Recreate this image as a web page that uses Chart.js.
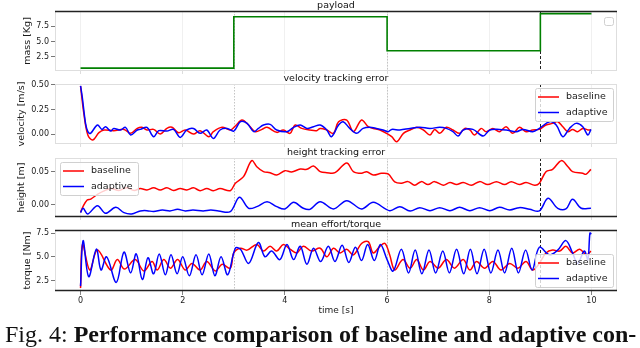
<!DOCTYPE html>
<html>
<head>
<meta charset="utf-8">
<script src="https://cdn.jsdelivr.net/npm/chart.js@4.4.0/dist/chart.umd.min.js"></script>
<style>
  body { margin: 0; width: 640px; height: 348px; overflow: hidden; background: #fff; position: relative; }
  canvas { position: absolute; left: 0; top: 0; }
  #caption { position: absolute; left: 5px; top: 322px; font-family: "Liberation Serif", serif; font-size: 24px; line-height: 24px; white-space: nowrap; color: #111; }
</style>
</head>
<body>
<canvas id="c1" width="640" height="348"></canvas>
<canvas id="c2" width="640" height="348"></canvas>
<canvas id="c3" width="640" height="348"></canvas>
<canvas id="c4" width="640" height="348"></canvas>
<div id="caption">Fig. 4: <b>Performance comparison of baseline and adaptive con-</b></div>
<script>
// data, [time s, value]
const massTimes = [0, 3, 6, 9, 10];
const massValues = [0.7, 9.0, 3.5, 9.5, 9.5];
const eventTimes = [3, 6, 9];   // payload changes, last one marked

const velBaseline = [[0,0.49],[0.065,0.21],[0.143,-0.007],[0.24,-0.058],[0.36,0.017],[0.46,0.044],[0.65,0.037],[0.85,0.05],[0.98,0.01],[1.11,0.06],[1.2,0.071],[1.3,0.044],[1.43,0.05],[1.56,0.003],[1.69,0.06],[1.79,0.071],[1.92,0.017],[2.05,0.044],[2.21,0.003],[2.34,0.037],[2.51,-0.024],[2.6,0.027],[2.77,0.071],[2.93,0.044],[3.03,0.084],[3.16,0.145],[3.29,0.094],[3.42,0.027],[3.55,0.05],[3.65,0.071],[3.84,0.02],[3.97,0.044],[4.1,0.01],[4.2,0.094],[4.33,0.06],[4.49,0.044],[4.62,0.037],[4.69,0.06],[4.82,0.044],[4.95,0.01],[5.05,0.128],[5.21,0.145],[5.34,0.027],[5.5,0.145],[5.63,0.077],[5.73,0.06],[5.86,0.044],[5.99,0.01],[6.09,-0.024],[6.19,-0.075],[6.32,0.01],[6.45,0.044],[6.58,0.071],[6.71,0.044],[6.84,-0.007],[6.93,0.05],[7.03,0.01],[7.16,0.071],[7.29,0.044],[7.42,0.01],[7.52,0.06],[7.62,0.044],[7.71,-0.007],[7.84,0.06],[7.94,0.027],[8.07,0.06],[8.2,0.027],[8.33,0.077],[8.46,0.01],[8.59,0.071],[8.72,0.027],[8.85,0.044],[8.98,0.05],[9.11,0.094],[9.24,0.111],[9.34,0.128],[9.44,0.077],[9.54,0.027],[9.63,0.05],[9.73,0.027],[9.83,0.06],[9.93,0.044],[9.99,0.044]];
const velAdaptive = [[0,0.49],[0.033,0.38],[0.098,0.111],[0.143,0.027],[0.195,0.01],[0.33,0.094],[0.42,0.05],[0.49,0.077],[0.59,0.033],[0.65,0.06],[0.78,0.044],[0.88,0.071],[0.98,-0.007],[1.11,0.044],[1.17,0.05],[1.3,0.071],[1.43,-0.024],[1.53,0.037],[1.69,0.033],[1.82,0.05],[1.95,-0.031],[2.08,0.044],[2.21,0.06],[2.34,0.01],[2.47,0.044],[2.6,-0.041],[2.73,0.044],[2.87,0.06],[3.0,0.033],[3.13,0.128],[3.26,0.111],[3.39,0.027],[3.48,0.06],[3.58,0.094],[3.71,0.101],[3.84,0.044],[4.04,0.027],[4.17,0.071],[4.3,0.094],[4.43,0.06],[4.56,0.077],[4.69,0.094],[4.82,0.044],[4.91,-0.024],[5.05,0.094],[5.14,0.128],[5.27,0.06],[5.4,0.01],[5.53,0.06],[5.66,0.071],[5.79,0.06],[5.92,0.044],[6.02,0.027],[6.09,0.05],[6.25,0.044],[6.45,0.06],[6.64,0.071],[6.84,0.06],[7.03,0.071],[7.16,0.06],[7.29,0.027],[7.39,-0.017],[7.49,0.044],[7.68,0.05],[7.88,-0.017],[8.01,0.044],[8.2,0.05],[8.33,0.044],[8.53,0.027],[8.66,0.05],[8.85,0.027],[8.98,0.06],[9.18,0.128],[9.31,0.094],[9.44,-0.024],[9.57,0.06],[9.7,0.111],[9.83,0.077],[9.93,-0.007],[9.99,0.05]];

const hgtBaseline = [[0,-0.011],[0.05,-0.002],[0.13,0.0076],[0.2,0.009],[0.33,0.016],[0.45,0.021],[0.6,0.025],[0.75,0.022],[0.9,0.026],[1.05,0.022],[1.17,0.025],[1.3,0.0227],[1.43,0.026],[1.56,0.0227],[1.69,0.026],[1.82,0.022],[1.95,0.025],[2.08,0.0227],[2.21,0.026],[2.34,0.0217],[2.47,0.025],[2.6,0.0217],[2.73,0.025],[2.93,0.0217],[3.03,0.033],[3.19,0.043],[3.35,0.0672],[3.45,0.058],[3.58,0.0505],[3.71,0.049],[3.84,0.0455],[4.0,0.052],[4.13,0.05],[4.3,0.0545],[4.43,0.054],[4.56,0.059],[4.69,0.0505],[4.82,0.049],[4.98,0.049],[5.21,0.0636],[5.34,0.0505],[5.5,0.048],[5.6,0.0505],[5.73,0.0455],[5.89,0.048],[6.02,0.047],[6.15,0.035],[6.28,0.033],[6.41,0.0354],[6.54,0.030],[6.67,0.0354],[6.8,0.031],[6.93,0.0354],[7.1,0.030],[7.23,0.034],[7.36,0.031],[7.49,0.034],[7.65,0.030],[7.81,0.0354],[7.97,0.031],[8.14,0.0354],[8.3,0.031],[8.43,0.0354],[8.59,0.031],[8.72,0.034],[8.89,0.030],[8.98,0.033],[9.11,0.0505],[9.24,0.054],[9.41,0.0672],[9.54,0.058],[9.63,0.0505],[9.83,0.048],[9.89,0.0465],[9.99,0.054]];
const hgtAdaptive = [[0,-0.0116],[0.05,-0.005],[0.14,-0.0136],[0.33,-0.001],[0.49,-0.0126],[0.69,-0.0035],[0.85,-0.0116],[1.0,-0.0136],[1.17,-0.009],[1.3,-0.0086],[1.43,-0.01],[1.6,-0.0076],[1.75,-0.009],[1.9,-0.0066],[2.05,-0.009],[2.2,-0.0076],[2.4,-0.009],[2.55,-0.0076],[2.7,-0.009],[2.93,-0.0101],[3.11,0.0116],[3.29,-0.005],[3.45,-0.0025],[3.65,0.005],[3.84,-0.0025],[4.0,-0.006],[4.17,0.004],[4.36,-0.005],[4.49,-0.0066],[4.69,0.005],[4.95,-0.006],[5.21,0.0066],[5.5,-0.006],[5.73,0.004],[6.05,-0.0086],[6.25,-0.0025],[6.45,-0.009],[6.64,-0.004],[6.84,-0.0086],[7.03,-0.004],[7.23,-0.0086],[7.42,-0.0035],[7.62,-0.0086],[7.81,-0.004],[8.01,-0.0086],[8.2,-0.0035],[8.4,-0.0076],[8.59,-0.004],[8.79,-0.0066],[8.98,-0.009],[9.15,0.0101],[9.34,-0.005],[9.5,-0.006],[9.63,0.0086],[9.8,-0.005],[9.99,-0.005]];

const torBaseline = [[0,1.7],[0.04,6.3],[0.18,3.6],[0.33,5.7],[0.59,3.6],[0.72,4.7],[0.86,3.7],[1.07,4.7],[1.24,3.5],[1.4,4.5],[1.5,3.6],[1.63,4.7],[1.76,3.8],[1.9,4.7],[2.05,3.6],[2.18,4.3],[2.34,3.6],[2.47,4.5],[2.64,3.5],[2.77,4.2],[2.93,3.8],[3.0,5.4],[3.13,5.9],[3.26,5.7],[3.45,6.3],[3.58,5.6],[3.71,6.1],[3.84,5.6],[3.97,6.3],[4.1,5.8],[4.23,5.4],[4.36,6.1],[4.52,5.6],[4.69,5.9],[4.82,5.0],[4.95,5.9],[5.08,5.4],[5.21,5.8],[5.34,5.2],[5.5,6.4],[5.63,6.6],[5.73,5.4],[5.86,6.1],[5.96,6.4],[6.05,5.2],[6.15,3.6],[6.31,4.7],[6.45,3.8],[6.58,4.7],[6.71,3.6],[6.84,4.5],[7.0,3.8],[7.16,4.7],[7.32,3.8],[7.49,4.7],[7.62,3.6],[7.75,4.5],[7.91,3.8],[8.07,4.5],[8.23,3.6],[8.4,4.3],[8.56,3.8],[8.72,4.5],[8.85,3.6],[8.98,4.3],[9.11,5.4],[9.24,5.7],[9.38,5.6],[9.5,6.1],[9.63,5.4],[9.77,5.8],[9.9,5.2],[9.99,5.6]];
const torAdaptive = [[0,1.9],[0.05,6.7],[0.16,2.9],[0.31,5.8],[0.4,3.6],[0.51,5.0],[0.7,2.3],[0.85,5.5],[0.98,3.3],[1.09,5.3],[1.21,2.6],[1.32,4.9],[1.43,3.2],[1.54,5.3],[1.66,3.1],[1.77,5.2],[1.89,3.2],[2.0,5.0],[2.13,3.0],[2.26,5.2],[2.38,3.1],[2.51,5.3],[2.63,3.0],[2.75,5.0],[2.88,3.1],[3.03,5.9],[3.13,5.8],[3.29,4.3],[3.48,6.5],[3.61,5.0],[3.74,5.6],[3.9,4.7],[4.04,6.3],[4.17,4.7],[4.3,6.1],[4.43,4.2],[4.56,5.9],[4.7,4.5],[4.85,6.1],[4.98,4.5],[5.12,6.2],[5.25,4.4],[5.38,6.0],[5.5,4.6],[5.62,6.3],[5.75,4.6],[5.87,6.3],[6.0,4.7],[6.12,3.5],[6.28,5.8],[6.42,3.3],[6.55,5.7],[6.68,3.2],[6.82,5.7],[6.95,3.3],[7.09,5.6],[7.22,3.3],[7.36,5.8],[7.5,3.2],[7.63,5.8],[7.76,3.2],[7.9,5.8],[8.03,3.3],[8.17,5.7],[8.3,3.3],[8.44,5.9],[8.57,3.3],[8.71,5.7],[8.84,3.6],[8.98,6.0],[9.18,5.2],[9.34,5.7],[9.5,6.7],[9.63,5.4],[9.73,4.3],[9.86,5.6],[9.93,4.7],[9.97,7.5],[10.0,7.4]];

const seriesNames = ['baseline', 'adaptive'];
const tickTimes = [0, 2, 4, 6, 8, 10];

Chart.defaults.font.family = '"DejaVu Sans", sans-serif';
Chart.defaults.color = '#1a1a1a';

const pts = pairs => pairs.map(p => ({ x: p[0], y: p[1] }));

// event lines, frame and panel title
const panelDecor = {
  id: 'panelDecor',
  beforeDatasetsDraw(chart) {
    const a = chart.chartArea, ctx = chart.ctx, xs = chart.scales.x;
    ctx.save();
    eventTimes.forEach((t, i) => {
      const px = Math.round(xs.getPixelForValue(t)) + 0.5;
      const marked = i === eventTimes.length - 1;
      ctx.strokeStyle = marked ? '#222' : '#c4c4c4';
      ctx.lineWidth = 1;
      ctx.setLineDash(marked ? [3, 2] : [1.5, 1.5]);
      ctx.beginPath(); ctx.moveTo(px, a.top); ctx.lineTo(px, a.bottom); ctx.stroke();
    });
    ctx.restore();
  },
  afterDraw(chart, args, o) {
    const a = chart.chartArea, ctx = chart.ctx;
    ctx.save();
    ctx.strokeStyle = '#dedede';
    ctx.lineWidth = 1;
    ctx.strokeRect(a.left + 0.5, a.top + 0.5, a.right - a.left - 1, a.bottom - a.top - 1);
    ctx.strokeStyle = '#222';
    ctx.lineWidth = 1.3;
    (o.dark || []).forEach(side => {
      const y = side === 'top' ? a.top + 0.5 : a.bottom - 0.5;
      ctx.beginPath(); ctx.moveTo(a.left, y); ctx.lineTo(a.right, y); ctx.stroke();
    });
    ctx.fillStyle = '#111';
    ctx.font = '9.5px "DejaVu Sans"';
    ctx.textAlign = 'center';
    ctx.textBaseline = 'alphabetic';
    ctx.fillText(o.title, (a.left + a.right) / 2, a.top - 3);
    ctx.restore();
  }
};

// matplotlib-like legend box inside the axes
const boxLegend = {
  id: 'boxLegend',
  afterDatasetsDraw(chart, args, o) {
    if (!o.where) return;
    const a = chart.chartArea, ctx = chart.ctx;
    const items = chart.data.datasets.filter(d => d.label);
    const w = items.length ? 78 : 9, h = items.length ? 33 : 8;
    const x = o.where.indexOf('right') >= 0 ? a.right - 4 - w : a.left + 5;
    const y = o.where.indexOf('upper') >= 0 ? a.top + (items.length ? 4 : 6) : a.bottom - 4 - h;
    ctx.save();
    ctx.beginPath();
    ctx.roundRect(x + 0.5, y + 0.5, w, h, 2);
    ctx.fillStyle = 'rgba(255,255,255,0.8)';
    ctx.fill();
    ctx.strokeStyle = '#d0d0d0';
    ctx.lineWidth = 1;
    ctx.stroke();
    ctx.font = '9.5px "DejaVu Sans"';
    ctx.textBaseline = 'middle';
    ctx.fillStyle = '#1a1a1a';
    items.forEach((d, i) => {
      const cy = y + 9 + i * 15.5;
      ctx.strokeStyle = d.borderColor;
      ctx.lineWidth = 1.5;
      ctx.beginPath(); ctx.moveTo(x + 3, cy); ctx.lineTo(x + 24, cy); ctx.stroke();
      ctx.fillText(d.label, x + 31, cy);
    });
    ctx.restore();
  }
};

function makePanel(id, p) {
  const xh = p.xlabels ? 26 : 0;
  return new Chart(document.getElementById(id), {
    type: 'line',
    data: { datasets: p.datasets },
    options: {
      responsive: false,
      animation: false,
      devicePixelRatio: 1,
      events: [],
      layout: { padding: { left: 0, right: 23, top: p.top, bottom: 348 - p.bottom - xh } },
      elements: { point: { radius: 0 }, line: { borderWidth: 1.5, tension: 0.35 } },
      plugins: {
        legend: { display: false },
        tooltip: { enabled: false },
        panelDecor: { title: p.title, dark: p.dark },
        boxLegend: { where: p.legend }
      },
      scales: {
        x: {
          type: 'linear', min: -0.5, max: 10.5,
          afterFit: s => { s.height = xh; },
          afterBuildTicks: s => { s.ticks = tickTimes.map(v => ({ value: v })); },
          border: { display: false },
          grid: { color: '#ececec', lineWidth: 0.8, drawTicks: true, tickLength: p.xlabels ? 4 : 3, tickColor: p.xlabels ? '#666' : '#d4d4d4' },
          ticks: { display: !!p.xlabels, padding: 1, font: { size: 8 }, maxRotation: 0 },
          title: { display: !!p.xlabels, text: 'time [s]', font: { size: 9 }, padding: { top: 0, bottom: 0.6 } }
        },
        y: {
          min: p.ymin, max: p.ymax,
          afterFit: s => { s.width = 55; },
          border: { display: false },
          grid: { drawOnChartArea: false, drawTicks: true, tickLength: 4, tickColor: '#777' },
          ticks: { stepSize: p.step, includeBounds: false, padding: 2, font: { size: 8 }, callback: v => v.toFixed(p.dec) },
          title: { display: true, text: p.ylabel, font: { size: 9.5 }, padding: { top: p.labelPad, bottom: 0 } }
        }
      }
    },
    plugins: [panelDecor, boxLegend]
  });
}

function pair(base, adap) {
  return [
    { label: seriesNames[0], data: pts(base), borderColor: '#ff0000', order: 1 },
    { label: seriesNames[1], data: pts(adap), borderColor: '#0000ff', order: 0 }
  ];
}

makePanel('c1', {
  top: 11, bottom: 71, title: 'payload', ylabel: 'mass [Kg]', ymin: 0.24, ymax: 9.92, step: 2.5, dec: 1, labelPad: 22,
  dark: ['top'], legend: 'upper right',
  datasets: [{ data: massTimes.map((t, i) => ({ x: t, y: massValues[i] })), borderColor: '#008000', stepped: true, tension: 0, borderWidth: 1.6 }]
});
makePanel('c2', {
  top: 84, bottom: 144, title: 'velocity tracking error', ylabel: 'velocity [m/s]', ymin: -0.098, ymax: 0.51, step: 0.25, dec: 2, labelPad: 16,
  dark: [], legend: 'upper right', datasets: pair(velBaseline, velAdaptive)
});
makePanel('c3', {
  top: 158, bottom: 217, title: 'height tracking error', ylabel: 'height [m]', ymin: -0.0182, ymax: 0.0712, step: 0.05, dec: 2, labelPad: 16,
  dark: ['bottom'], legend: 'upper left', datasets: pair(hgtBaseline, hgtAdaptive)
});
makePanel('c4', {
  top: 230, bottom: 291, title: 'mean effort/torque', ylabel: 'torque [Nm]', ymin: 1.39, ymax: 7.82, step: 2.5, dec: 1, labelPad: 22,
  dark: ['top', 'bottom'], legend: 'lower right', xlabels: true, datasets: pair(torBaseline, torAdaptive)
});
</script>
</body>
</html>
